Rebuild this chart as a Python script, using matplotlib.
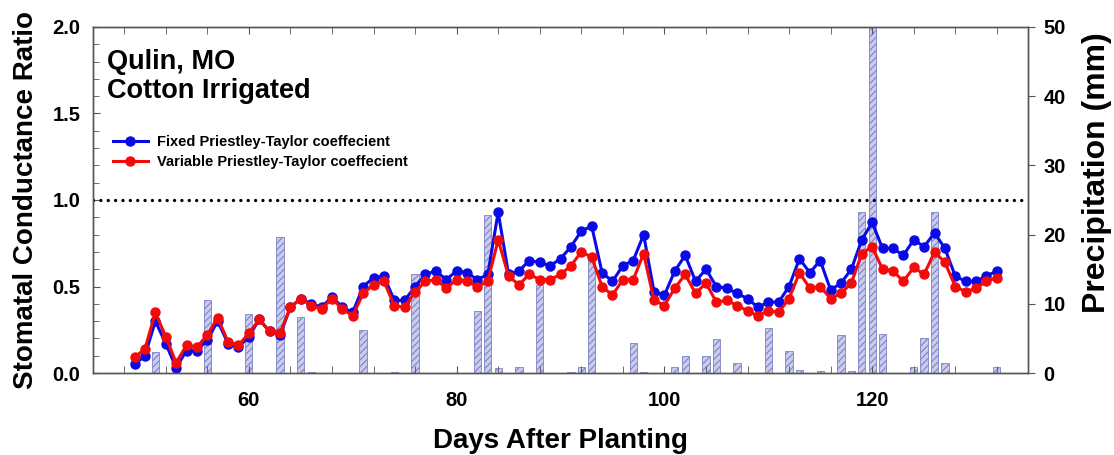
import numpy as np
import matplotlib.pyplot as plt
from matplotlib.ticker import MultipleLocator

plt.rcParams['font.family'] = ['Liberation Sans', 'DejaVu Sans']
plt.rcParams['font.weight'] = 'bold'
plt.rcParams['hatch.linewidth'] = 0.8

# daily stomatal conductance ratio, days 49..132
days = np.arange(49, 133)
fixed_pt = [0.05, 0.10, 0.30, 0.17, 0.03, 0.13, 0.13, 0.19, 0.30, 0.17,
            0.15, 0.21, 0.31, 0.24, 0.22, 0.38, 0.43, 0.40, 0.38, 0.44,
            0.38, 0.35, 0.50, 0.55, 0.56, 0.42, 0.42, 0.50, 0.57, 0.59,
            0.54, 0.59, 0.58, 0.54, 0.57, 0.93, 0.57, 0.59, 0.65, 0.64,
            0.62, 0.66, 0.73, 0.82, 0.85, 0.58, 0.53, 0.62, 0.65, 0.80,
            0.47, 0.45, 0.59, 0.68, 0.53, 0.60, 0.50, 0.49, 0.46, 0.43,
            0.38, 0.41, 0.41, 0.50, 0.66, 0.58, 0.65, 0.48, 0.52, 0.60,
            0.77, 0.87, 0.72, 0.72, 0.68, 0.77, 0.73, 0.81, 0.72, 0.56,
            0.53, 0.53, 0.56, 0.59]
variable_pt = [0.09, 0.14, 0.35, 0.21, 0.06, 0.16, 0.15, 0.22, 0.32, 0.18,
               0.16, 0.23, 0.31, 0.24, 0.23, 0.38, 0.43, 0.39, 0.37, 0.43,
               0.37, 0.33, 0.46, 0.51, 0.53, 0.39, 0.38, 0.47, 0.53, 0.54,
               0.49, 0.54, 0.53, 0.50, 0.53, 0.77, 0.56, 0.51, 0.57, 0.54,
               0.54, 0.57, 0.62, 0.70, 0.67, 0.50, 0.45, 0.54, 0.54, 0.69,
               0.42, 0.39, 0.49, 0.57, 0.46, 0.52, 0.41, 0.42, 0.39, 0.36,
               0.33, 0.36, 0.35, 0.43, 0.58, 0.49, 0.50, 0.43, 0.46, 0.52,
               0.69, 0.73, 0.60, 0.59, 0.53, 0.61, 0.57, 0.70, 0.64, 0.50,
               0.47, 0.49, 0.53, 0.55]

# precipitation events
rain_days = [51, 56, 60, 63, 65, 66, 71, 74, 76, 82, 83, 84, 86, 88, 91, 92, 93,
             97, 98, 101, 102, 104, 105, 107, 110, 112, 113, 115, 117, 118,
             119, 120, 121, 124, 125, 126, 127, 132]
rain_mm = [3.1, 10.5, 8.5, 19.6, 8.1, 0.2, 6.2, 0.2, 14.3, 9.0, 22.8, 0.7, 0.8,
           12.7, 0.2, 0.9, 17.0, 4.4, 0.2, 0.9, 2.4, 2.4, 4.9, 1.5, 6.5, 3.2,
           0.4, 0.3, 5.5, 0.3, 23.2, 50.0, 5.7, 0.8, 5.0, 23.2, 1.4, 0.8]

fig = plt.figure(figsize=(11.14, 4.55), dpi=100)
ax = fig.add_axes([0.0835, 0.1802, 0.8393, 0.7605])
ax2 = ax.twinx()

ax2.bar(rain_days, rain_mm, width=0.7, facecolor='#c9cced', edgecolor='#7d82c6',
        linewidth=0.6, hatch='/////')
ax2.set_ylim(0, 50)
ax2.yaxis.set_major_locator(MultipleLocator(10))
ax2.set_ylabel('Precipitation (mm)', fontsize=23, fontweight='bold')
ax2.yaxis.set_label_coords(1.058, 0.58)

ax.set_zorder(ax2.get_zorder() + 1)
ax.patch.set_visible(False)

ax.axhline(1.0, color='black', linestyle=(0, (0.01, 2.2)), linewidth=2.4,
           dash_capstyle='round')
ax.plot(days, fixed_pt, color='#0a0ae6', linewidth=2.2, marker='o',
        markersize=6.5, label='Fixed Priestley-Taylor coeffecient')
ax.plot(days, variable_pt, color='#f50a0a', linewidth=2.2, marker='o',
        markersize=6.5, label='Variable Priestley-Taylor coeffecient')

ax.set_xlim(45, 135)
ax.set_ylim(0, 2.0)
ax.xaxis.set_major_locator(MultipleLocator(20))
ax.xaxis.set_minor_locator(MultipleLocator(4))
ax.yaxis.set_major_locator(MultipleLocator(0.5))
ax.yaxis.set_minor_locator(MultipleLocator(0.1))
ax.yaxis.set_major_formatter(plt.FormatStrFormatter('%.1f'))

ax.tick_params(which='both', direction='in', top=True, labelsize=14.5,
               color='#555555')
ax.tick_params(which='major', length=5)
ax.tick_params(which='minor', length=4)
ax.tick_params(axis='x', which='minor', length=5)
ax.tick_params(axis='x', which='major', pad=13)
ax.tick_params(axis='y', which='major', pad=9)
ax2.tick_params(direction='out', labelsize=14.5, length=5, pad=6,
                color='#555555')
for a in (ax, ax2):
    for s in a.spines.values():
        s.set_color('#555555')
        s.set_linewidth(1.0)

ax.set_xlabel('Days After Planting', fontsize=20, fontweight='bold', labelpad=13)
ax.set_ylabel('Stomatal Conductance Ratio', fontsize=20, fontweight='bold',
              labelpad=10)

ax.text(0.015, 0.935, 'Qulin, MO\nCotton Irrigated', transform=ax.transAxes,
        fontsize=19.5, fontweight='bold', va='top', ha='left', linespacing=1.15)
ax.legend(loc='upper left', bbox_to_anchor=(0.015, 0.705), frameon=False,
          fontsize=10.5, handlelength=2.4, handletextpad=0.6, labelspacing=0.45,
          borderaxespad=0)

fig.savefig('out.png', dpi=100)
